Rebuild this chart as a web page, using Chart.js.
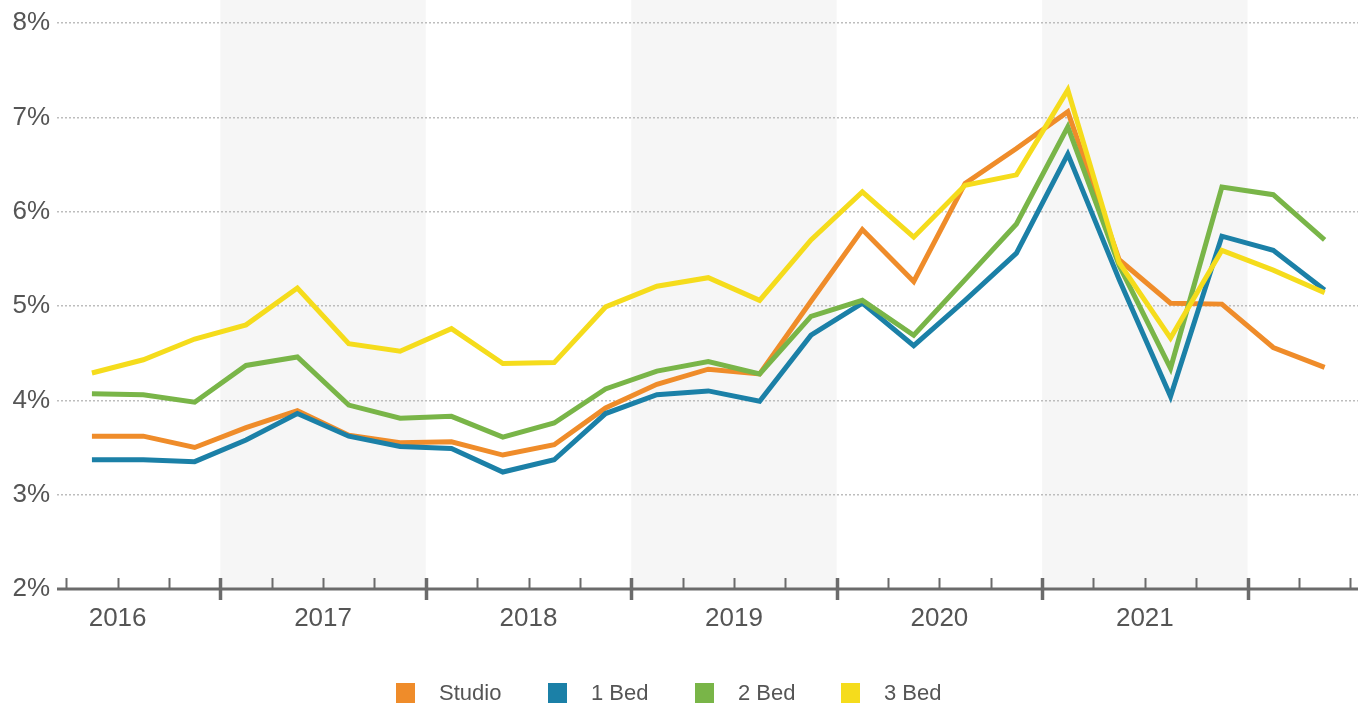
<!DOCTYPE html>
<html>
<head>
<meta charset="utf-8">
<script src="https://cdn.jsdelivr.net/npm/chart.js@4/dist/chart.umd.min.js"></script>
<style>
  html, body { margin: 0; padding: 0; background: #fff; }
  #wrap { width: 1369px; height: 711px; }
</style>
</head>
<body>
<div id="wrap"><canvas id="yields" width="1369" height="711"></canvas></div>
<script>
// quarterly points, Q2 2016 .. Q2 2022
const quarters = [
  'Q2 2016', 'Q3 2016', 'Q4 2016',
  'Q1 2017', 'Q2 2017', 'Q3 2017', 'Q4 2017',
  'Q1 2018', 'Q2 2018', 'Q3 2018', 'Q4 2018',
  'Q1 2019', 'Q2 2019', 'Q3 2019', 'Q4 2019',
  'Q1 2020', 'Q2 2020', 'Q3 2020', 'Q4 2020',
  'Q1 2021', 'Q2 2021', 'Q3 2021', 'Q4 2021',
  'Q1 2022', 'Q2 2022'
];
const years = ['2016', '2017', '2018', '2019', '2020', '2021'];

const studio   = [3.62, 3.62, 3.50, 3.71, 3.89, 3.63, 3.55, 3.56, 3.42, 3.53, 3.92, 4.17, 4.33, 4.28, 5.05, 5.81, 5.26, 6.30, 6.67, 7.06, 5.49, 5.03, 5.02, 4.56, 4.35];
const oneBed   = [3.37, 3.37, 3.35, 3.58, 3.86, 3.62, 3.51, 3.49, 3.24, 3.37, 3.86, 4.06, 4.10, 3.99, 4.69, 5.03, 4.58, 5.06, 5.56, 6.61, 5.28, 4.04, 5.74, 5.59, 5.17];
const twoBed   = [4.07, 4.06, 3.98, 4.37, 4.46, 3.95, 3.81, 3.83, 3.61, 3.76, 4.12, 4.31, 4.41, 4.28, 4.89, 5.06, 4.69, 5.28, 5.87, 6.90, 5.43, 4.34, 6.26, 6.18, 5.70];
const threeBed = [4.29, 4.43, 4.65, 4.80, 5.19, 4.60, 4.52, 4.76, 4.39, 4.40, 4.99, 5.21, 5.30, 5.06, 5.70, 6.21, 5.73, 6.28, 6.39, 7.29, 5.46, 4.66, 5.59, 5.38, 5.14];

const yMin = 2, yMax = 8;

const FONT = '"Liberation Sans", Arial, sans-serif';
const TEXT = '#555555';

// index position of a given quarter (Q2 2016 is 0)
function qPos(year, q) {
  return (Number(year) - 2016) * 4 + (q - 2);
}
const yearStart = yr => qPos(yr, 1) - 0.5;
const yearEnd = yr => qPos(yr, 4) + 0.5;

const toPoints = arr => arr.map((v, i) => ({ x: i, y: v }));

const series = [
  { label: 'Studio', data: studio,   color: '#ef8c2a', order: 4 },
  { label: '1 Bed',  data: oneBed,   color: '#1b80a7', order: 3 },
  { label: '2 Bed',  data: twoBed,   color: '#79b548', order: 2 },
  { label: '3 Bed',  data: threeBed, color: '#f5dc1c', order: 1 }
];

// alternate year shading, bottom axis with quarter ticks, year labels and legend
const yearAxis = {
  id: 'yearAxis',
  beforeDraw(chart) {
    const { ctx, chartArea, scales: { x } } = chart;
    ctx.save();
    ctx.fillStyle = '#f6f6f6';
    years.forEach((yr, j) => {
      if (j % 2 !== 1) return;
      const a = x.getPixelForValue(yearStart(yr));
      const b = x.getPixelForValue(yearEnd(yr));
      ctx.fillRect(a, 0, b - a, chartArea.bottom);
    });
    ctx.restore();
  },
  afterDraw(chart) {
    const { ctx, chartArea, scales: { x, y } } = chart;
    const base = y.getPixelForValue(yMin);
    ctx.save();

    ctx.strokeStyle = '#6b6b6b';
    ctx.lineWidth = 3;
    ctx.beginPath();
    ctx.moveTo(chartArea.left, base);
    ctx.lineTo(chartArea.right, base);
    ctx.stroke();

    // quarter ticks, heavier ones at year boundaries
    const bounds = years.map(yearEnd);
    for (let k = 0; k <= quarters.length; k++) {
      const v = k - 0.5;
      const px = Math.round(x.getPixelForValue(v)) + 0.5;
      const big = bounds.includes(v);
      ctx.lineWidth = big ? 3.5 : 2;
      ctx.beginPath();
      ctx.moveTo(px, base - 11);
      ctx.lineTo(px, big ? base + 11 : base);
      ctx.stroke();
    }

    ctx.fillStyle = TEXT;
    ctx.font = '26px ' + FONT;
    ctx.textAlign = 'center';
    ctx.textBaseline = 'middle';
    years.forEach(yr => {
      const mid = (yearStart(yr) + yearEnd(yr)) / 2;
      ctx.fillText(yr, x.getPixelForValue(mid), base + 30);
    });

    // legend
    const legendX = [396, 548, 695, 841];
    const ly = 693;
    ctx.font = '22px ' + FONT;
    ctx.textAlign = 'left';
    series.forEach((s, i) => {
      ctx.fillStyle = s.color;
      ctx.fillRect(legendX[i], ly - 10, 19, 20);
      ctx.fillStyle = TEXT;
      ctx.fillText(s.label, legendX[i] + 43, ly + 1);
    });

    ctx.restore();
  }
};

new Chart(document.getElementById('yields'), {
  type: 'line',
  data: {
    datasets: series.map(s => ({
      label: s.label,
      data: toPoints(s.data),
      borderColor: s.color,
      backgroundColor: s.color,
      borderWidth: 5,
      pointRadius: 0,
      tension: 0,
      order: s.order
    }))
  },
  options: {
    responsive: false,
    animation: false,
    layout: { padding: { top: 23, right: 11, bottom: 122, left: 0 } },
    plugins: {
      legend: { display: false },
      tooltip: { enabled: false }
    },
    scales: {
      x: {
        type: 'linear',
        display: false,
        min: -0.68,
        max: 24.65
      },
      y: {
        min: yMin,
        max: yMax,
        afterFit(scale) { scale.width = 57; },
        // border.dash also dots the grid lines
        border: { display: false, dash: [2, 2] },
        grid: {
          drawTicks: false,
          lineWidth: 1.5,
          color: c => c.tick && c.tick.value === yMin ? 'rgba(0,0,0,0)' : '#bdbdbd'
        },
        ticks: {
          stepSize: 1,
          padding: 7,
          color: TEXT,
          font: { family: FONT, size: 26 },
          callback: v => v + '%'
        }
      }
    }
  },
  plugins: [yearAxis]
});
</script>
</body>
</html>
